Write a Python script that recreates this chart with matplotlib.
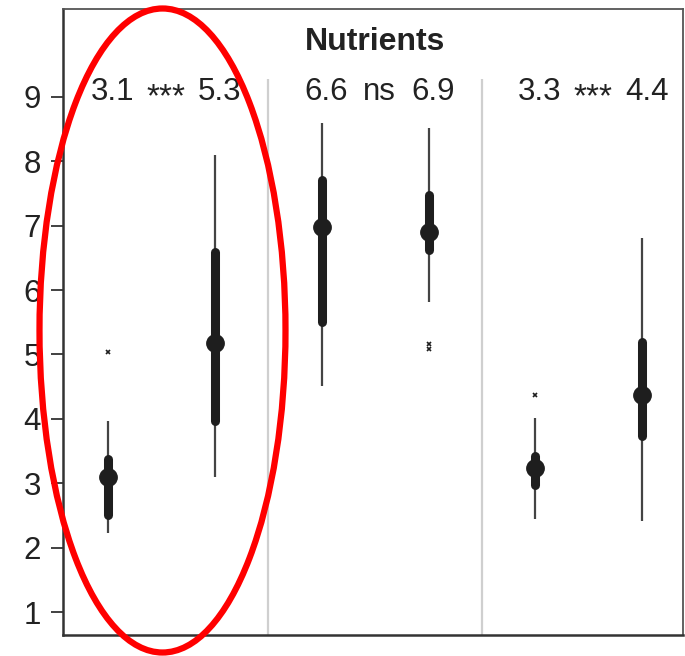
import matplotlib
matplotlib.use("Agg")
import matplotlib.pyplot as plt
from matplotlib.patches import Ellipse

plt.rcParams["font.family"] = ["Liberation Sans", "DejaVu Sans"]

TEXT = "#222222"
BOX = "#1e1e1e"
WHISKER = "#444444"

# Summary values per group (two groups per comparison)
positions = [1, 2, 3, 4, 5, 6]
whisker_lo = [2.23, 3.10, 4.51, 5.82, 2.45, 2.41]
q1 = [2.50, 3.96, 5.51, 6.62, 2.98, 3.74]
median = [3.10, 5.18, 6.98, 6.91, 3.24, 4.37]
q3 = [3.38, 6.59, 7.71, 7.48, 3.42, 5.20]
whisker_hi = [3.96, 8.10, 8.60, 8.52, 4.02, 6.81]
outliers = [[5.04], [], [], [5.16, 5.08], [4.37], []]

# Means printed above each group and the test result between each pair
mean_labels = ["3.1", "5.3", "6.6", "6.9", "3.3", "4.4"]
significance = ["***", "ns", "***"]
title = "Nutrients"

fig = plt.figure(figsize=(6.85, 6.56), dpi=100)
ax = fig.add_axes([63 / 685, 21 / 656, 620 / 685, 626 / 656])
ax.set_xlim(0.58, 6.38)
ax.set_ylim(0.643, 10.366)

# panel separators
for x in (2.5, 4.5):
    ax.vlines(x, 0.643, 9.28, color="#cfcfcf", lw=1.6, zorder=1)

for i, x in enumerate(positions):
    ax.vlines(x, whisker_lo[i], whisker_hi[i], color=WHISKER, lw=1.6, zorder=2)
    ax.plot([x, x], [q1[i], q3[i]], color=BOX, lw=6.5,
            solid_capstyle="round", zorder=3)
    ax.plot(x, median[i], "o", color=BOX, ms=12.5, zorder=4)
    if outliers[i]:
        ax.plot([x] * len(outliers[i]), outliers[i], "x", color=BOX,
                ms=3.2, mew=1.2, zorder=4)

for i, x in enumerate(positions):
    ax.text(x + 0.04, 9.08, mean_labels[i], ha="center", va="center",
            fontsize=22.5, color=TEXT)
for k, sig in enumerate(significance):
    xc = 1.54 + 2 * k
    if sig == "ns":
        ax.text(xc, 9.08, sig, ha="center", va="center",
                fontsize=22.5, color=TEXT)
    else:
        ax.text(xc, 8.98, sig, ha="center", va="center",
                fontsize=24, color=TEXT)

ax.text(3.50, 9.86, title, ha="center", va="center", fontsize=23,
        fontweight="bold", color=TEXT)

ax.set_yticks(range(1, 10))
ax.set_xticks([])
ax.tick_params(axis="y", length=9, width=1.3, pad=7, labelsize=22.5,
               colors="#333333", labelcolor=TEXT)
for side in ("left", "bottom"):
    ax.spines[side].set_color("#333333")
    ax.spines[side].set_linewidth(1.8)
for side in ("top", "right"):
    ax.spines[side].set_color("#555555")
    ax.spines[side].set_linewidth(1.3)

# highlight around the first comparison
ring = Ellipse((162.5 / 685, 1 - 330.5 / 656), 246 / 685, 644 / 656,
               transform=fig.transFigure, fill=False, edgecolor="#ff0000",
               lw=4.5, zorder=10)
fig.patches.append(ring)

fig.savefig("out.png", dpi=100)
